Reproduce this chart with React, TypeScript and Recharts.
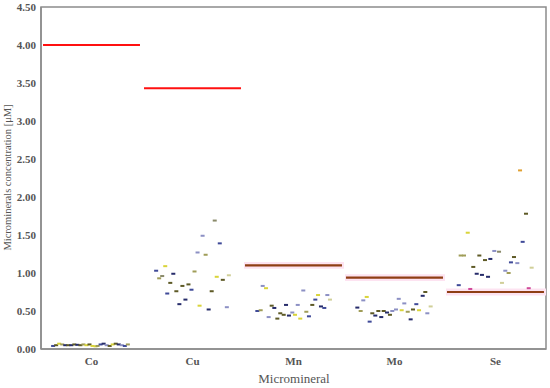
import React from "react";
import {
  ScatterChart, Scatter, XAxis, YAxis, ReferenceLine, ReferenceArea,
} from "recharts";

const minerals = ["Co", "Cu", "Mn", "Mo", "Se"];
// red lines: reference limit per mineral (µM)
const limits = [4.0, 3.43, 1.1, 0.94, 0.75];
// which limits are drawn with the shaded brown style
const shaded = [false, false, true, true, true];
const yTicks = [0, 0.5, 1, 1.5, 2, 2.5, 3, 3.5, 4, 4.5];

// [position inside category band (0..1), value, colour key]
type Pt = [number, number, string];

const coPts: Pt[] = [
  [0.12, 0.04, "b"], [0.15, 0.05, "o"], [0.18, 0.07, "y"], [0.21, 0.06, "k"],
  [0.24, 0.05, "n"], [0.27, 0.05, "o"], [0.3, 0.05, "n"], [0.33, 0.06, "o"],
  [0.36, 0.055, "n"], [0.39, 0.05, "o"], [0.42, 0.06, "k"], [0.45, 0.05, "y"],
  [0.48, 0.06, "o"], [0.51, 0.04, "y"], [0.54, 0.035, "y"], [0.56, 0.04, "k"],
  [0.59, 0.06, "b"], [0.62, 0.07, "n"], [0.65, 0.05, "l"], [0.68, 0.04, "o"],
  [0.71, 0.06, "y"], [0.74, 0.07, "o"], [0.77, 0.06, "n"], [0.8, 0.05, "l"],
  [0.83, 0.04, "b"], [0.86, 0.06, "k"],
];

const cuPts: Pt[] = [
  [0.72, 1.69, "g"], [0.6, 1.49, "l"], [0.77, 1.39, "b"], [0.55, 1.27, "l"],
  [0.63, 1.24, "k"], [0.23, 1.09, "y"], [0.14, 1.03, "b"], [0.31, 0.99, "n"],
  [0.52, 1.02, "k"], [0.2, 0.96, "g"], [0.17, 0.93, "k"], [0.74, 0.95, "y"],
  [0.8, 0.91, "o"], [0.86, 0.97, "p"], [0.28, 0.87, "o"], [0.4, 0.83, "o"],
  [0.46, 0.85, "o"], [0.49, 0.78, "b"], [0.34, 0.76, "o"], [0.25, 0.73, "b"],
  [0.69, 0.76, "o"], [0.43, 0.65, "n"], [0.37, 0.59, "n"], [0.57, 0.57, "y"],
  [0.66, 0.52, "n"], [0.84, 0.55, "l"],
];

const mnPts: Pt[] = [
  [0.195, 0.83, "l"], [0.228, 0.8, "y"], [0.597, 0.77, "l"], [0.743, 0.71, "y"],
  [0.835, 0.71, "l"], [0.716, 0.65, "b"], [0.861, 0.65, "p"], [0.426, 0.58, "n"],
  [0.542, 0.58, "l"], [0.284, 0.57, "o"], [0.686, 0.58, "o"], [0.772, 0.56, "n"],
  [0.805, 0.54, "b"], [0.31, 0.54, "n"], [0.142, 0.5, "b"], [0.175, 0.51, "k"],
  [0.488, 0.48, "l"], [0.627, 0.49, "k"], [0.369, 0.47, "o"], [0.403, 0.45, "o"],
  [0.455, 0.44, "n"], [0.515, 0.45, "y"], [0.254, 0.42, "l"], [0.653, 0.43, "b"],
  [0.34, 0.4, "o"], [0.567, 0.4, "y"],
];

const moPts: Pt[] = [
  [0.225, 0.685, "y"], [0.191, 0.64, "l"], [0.542, 0.66, "l"], [0.779, 0.7, "n"],
  [0.805, 0.75, "o"], [0.597, 0.6, "l"], [0.716, 0.59, "b"], [0.858, 0.56, "p"],
  [0.132, 0.545, "n"], [0.165, 0.5, "k"], [0.34, 0.5, "o"], [0.393, 0.5, "o"],
  [0.515, 0.52, "l"], [0.571, 0.51, "y"], [0.683, 0.52, "o"], [0.743, 0.51, "y"],
  [0.28, 0.47, "o"], [0.426, 0.48, "n"], [0.478, 0.5, "l"], [0.631, 0.49, "k"],
  [0.31, 0.44, "n"], [0.455, 0.45, "o"], [0.369, 0.42, "n"], [0.825, 0.47, "l"],
  [0.254, 0.36, "b"], [0.66, 0.39, "n"],
];

const sePts: Pt[] = [
  [0.743, 2.35, "r"], [0.802, 1.78, "o"], [0.225, 1.53, "y"], [0.769, 1.41, "b"],
  [0.488, 1.29, "l"], [0.535, 1.28, "g"], [0.155, 1.23, "k"], [0.188, 1.23, "k"],
  [0.34, 1.23, "o"], [0.683, 1.21, "o"], [0.449, 1.185, "n"], [0.396, 1.17, "o"],
  [0.653, 1.14, "b"], [0.716, 1.13, "l"], [0.858, 1.07, "p"], [0.28, 1.08, "o"],
  [0.597, 1.03, "l"], [0.63, 1.0, "k"], [0.314, 0.99, "n"], [0.366, 0.975, "n"],
  [0.426, 0.95, "n"], [0.564, 0.87, "p"], [0.136, 0.84, "b"], [0.25, 0.79, "m"],
  [0.829, 0.8, "m"],
];

const allPts = [coPts, cuPts, mnPts, moPts, sePts];

const COLORS: Record<string, string> = {
  n: "#262c6a", b: "#3f4a98", l: "#8c90c4", o: "#5e5a26", k: "#a09d58",
  y: "#d9d43a", p: "#d0cf98", g: "#8a8a6a", r: "#e0a030", m: "#d04a9a",
};

const FONT = "'Liberation Serif', 'DejaVu Serif', serif";
const AXIS = "#8c8c8c";
const BAND = 0.045; // half height of pink shading behind the brown lines

function Dash(props: any) {
  const { cx, cy, payload } = props;
  if (cx == null || cy == null) return null;
  return <rect x={cx - 2} y={cy - 1} width={4} height={2} fill={COLORS[payload.c]} />;
}

export default function App() {
  const series = allPts.map((pts, i) =>
    pts.map(([dx, v, c]) => ({ x: i + dx, y: v, c }))
  );

  return (
    <div style={{ position: "absolute", left: 0, top: 0, width: 550, height: 388, background: "#fff" }}>
      <ScatterChart width={550} height={388} margin={{ top: 7, right: 4, left: 0, bottom: 0 }}>
        <XAxis
          type="number"
          dataKey="x"
          domain={[0, 5]}
          ticks={[0.5, 1.5, 2.5, 3.5, 4.5]}
          tickFormatter={(v: number) => minerals[Math.floor(v)]}
          height={39}
          tickLine={false}
          axisLine={{ stroke: AXIS, strokeWidth: 1.5 }}
          tick={{ fontSize: 11, fill: "#555", fontFamily: FONT, fontWeight: 700 }}
        />
        <YAxis
          type="number"
          dataKey="y"
          domain={[0, 4.5]}
          ticks={yTicks}
          tickFormatter={(v: number) => v.toFixed(2)}
          width={41}
          tickLine={false}
          tickSize={3}
          axisLine={{ stroke: AXIS, strokeWidth: 1.5 }}
          tick={{ fontSize: 11, fill: "#555", fontFamily: FONT, fontWeight: 700 }}
        />
        <ReferenceArea x1={0} x2={5} y1={0} y2={4.5} fill="none" stroke={AXIS} strokeWidth={1.5} />
        {limits.map((v, i) =>
          shaded[i] ? (
            <ReferenceArea
              key={"band" + i}
              x1={i + 0.01}
              x2={i + 1}
              y1={v - BAND}
              y2={v + BAND}
              fill="#fde3f1"
              fillOpacity={1}
              stroke="none"
            />
          ) : null
        )}
        {series.map((d, i) => (
          <Scatter key={minerals[i]} data={d} shape={Dash} isAnimationActive={false} />
        ))}
        {limits.map((v, i) => (
          <ReferenceLine
            key={"lim" + i}
            segment={[{ x: i + 0.02, y: v }, { x: i + 0.98, y: v }]}
            stroke={shaded[i] ? "#8f3e14" : "#ff1010"}
            strokeWidth={shaded[i] ? 2.2 : 2}
          />
        ))}
      </ScatterChart>
      <svg width={550} height={388} style={{ position: "absolute", left: 0, top: 0, pointerEvents: "none" }}>
        <text
          x={10.7}
          y={177.5}
          transform="rotate(-90 10.7 177.5)"
          textAnchor="middle"
          fontFamily={FONT}
          fontSize={10.5}
          fill="#555"
        >
          Microminerals concentration [μM]
        </text>
        <text x={294} y={383} textAnchor="middle" fontFamily={FONT} fontSize={13} fill="#555">
          Micromineral
        </text>
      </svg>
    </div>
  );
}
